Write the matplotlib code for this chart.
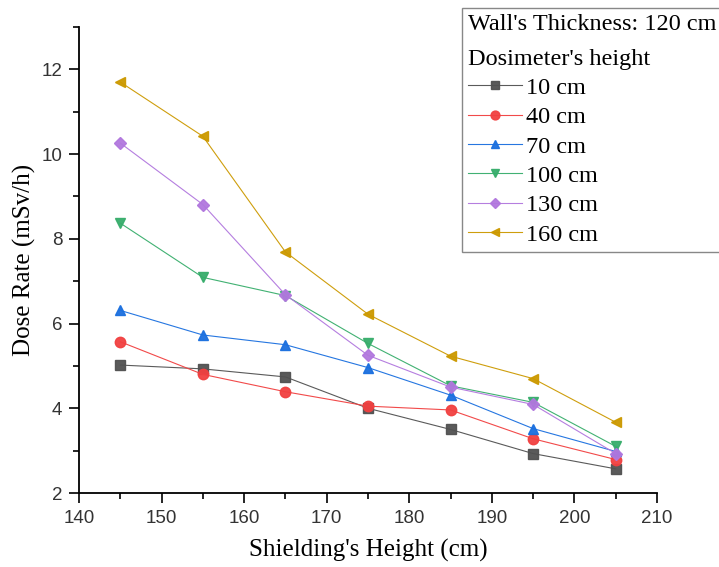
import numpy as np
import matplotlib.pyplot as plt

# datos
x = [145, 155, 165, 175, 185, 195, 205]
etiquetas = ['10 cm', '40 cm', '70 cm', '100 cm', '130 cm', '160 cm']
d10 = [5.02, 4.93, 4.74, 4.00, 3.50, 2.93, 2.57]
d40 = [5.57, 4.80, 4.39, 4.05, 3.96, 3.28, 2.79]
d70 = [6.31, 5.73, 5.50, 4.96, 4.31, 3.52, 2.98]
d100 = [8.37, 7.09, 6.66, 5.53, 4.53, 4.14, 3.10]
d130 = [10.26, 8.81, 6.68, 5.25, 4.50, 4.09, 2.93]
d160 = [11.70, 10.42, 7.69, 6.22, 5.23, 4.70, 3.67]
series = [d10, d40, d70, d100, d130, d160]

colores = ['#515151', '#F14040', '#1A6FDF', '#37AD6B', '#B177DE', '#CC9900']
marcadores = ['s', 'o', '^', 'v', 'D', '<']
tamanos = [6.5, 7.5, 7.5, 7.5, 6.5, 7.5]

plt.rcParams['font.family'] = 'Liberation Serif'

fig = plt.figure(figsize=(7.19, 5.67), dpi=100)
ax = fig.add_axes([79 / 719, 1 - 493 / 567, (657 - 79) / 719, (493 - 27) / 567])

for y, lab, c, m, ms in zip(series, etiquetas, colores, marcadores, tamanos):
    ax.plot(x, y, color=c, lw=0.8, marker=m, ms=ms, mec=c, mfc=c, label=lab, alpha=0.95)

ax.set_xlim(140, 210)
ax.set_ylim(2, 13)
ax.set_xticks(np.arange(140, 211, 10))
ax.set_xticks(np.arange(145, 210, 10), minor=True)
ax.set_yticks([2, 4, 6, 8, 10, 12])
ax.set_yticks([3, 5, 7, 9, 11, 13], minor=True)
ax.tick_params(which='major', direction='out', length=7, width=1.2, labelsize=13.5, pad=5)
ax.tick_params(which='minor', direction='out', length=4, width=1.2)
for t in ax.get_xticklabels() + ax.get_yticklabels():
    t.set_fontfamily('Liberation Sans')
    t.set_color('#333333')

ax.spines['top'].set_visible(False)
ax.spines['right'].set_visible(False)
ax.spines['left'].set_linewidth(1.3)
ax.spines['bottom'].set_linewidth(1.3)

ax.set_xlabel("Shielding's Height (cm)", fontsize=18, labelpad=9)
ax.set_ylabel("Dose Rate (mSv/h)", fontsize=18, labelpad=4)

leg = ax.legend(title="Wall's Thickness: 120 cm\nDosimeter's height",
                loc='upper left', bbox_to_anchor=(462 / 719, 1 - 8 / 567),
                bbox_transform=fig.transFigure, fontsize=17.5, title_fontsize=17.5,
                frameon=True, fancybox=False, edgecolor='#888888', framealpha=1,
                handlelength=2.2, handletextpad=0.2, labelspacing=0.3,
                borderpad=0.25, borderaxespad=0, markerscale=0.85)
leg._legend_box.align = 'left'
leg.get_title().set_linespacing(1.85)
leg.get_frame().set_linewidth(1.0)

fig.savefig('out.png', dpi=100)
